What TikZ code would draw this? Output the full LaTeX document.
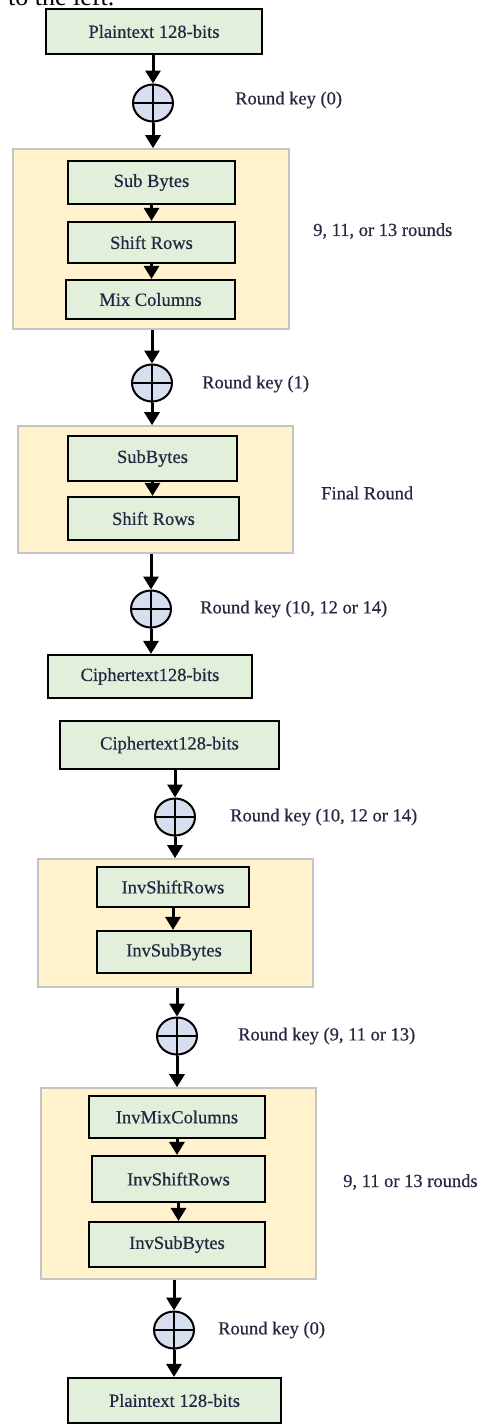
\documentclass[tikz,border=0pt]{standalone}
\usepackage{fontspec}
\setmainfont{Liberation Serif}
\newfontfamily\diafont[RawFeature={embolden=0.5}]{Liberation Serif}
\usetikzlibrary{arrows.meta,shapes.geometric}

\definecolor{stepfill}{RGB}{226,239,218}
\definecolor{roundfill}{RGB}{255,242,204}
\definecolor{roundedge}{RGB}{196,196,196}
\definecolor{xorfill}{RGB}{214,222,240}
\definecolor{labelink}{RGB}{38,38,66}

\tikzset{
  stepbox/.style={draw=black, line width=2.2pt, fill=stepfill, inner sep=0pt,
    text=labelink, font=\diafont\fontsize{18.5}{22}\selectfont},
  roundbox/.style={draw=roundedge, line width=1.6pt, fill=roundfill, inner sep=0pt},
  xorop/.style={ellipse, draw=black, line width=2pt, fill=xorfill, inner sep=0pt,
    minimum width=40pt, minimum height=37pt},
  keylabel/.style={anchor=west, inner sep=0pt, text=labelink,
    font=\diafont\fontsize{18.5}{22}\selectfont},
  flow/.style={line width=3pt, -{Triangle[width=15pt,length=13pt]}},
  crossline/.style={line width=1.8pt}
}

\newcommand{\xorcross}[1]{\draw[crossline] (#1.north) -- (#1.south) (#1.west) -- (#1.east);}

\begin{document}
\begin{tikzpicture}[x=1pt,y=-1pt]
\useasboundingbox (0,0) rectangle (480,1424);

% running text of the page above the figure
\node[anchor=base west, inner sep=0pt, font=\fontsize{26}{30}\selectfont] (runin) at (8,5.5) {to the left.};

% ---------------- encryption ----------------
\node[stepbox, minimum width=216pt, minimum height=45pt] (pt1) at (154,31.5) {Plaintext 128-bits};
\node[xorop] (x1) at (153,103) {};
\xorcross{x1}
\node[keylabel] (k0) at (235,100) {Round key (0)};

\node[roundbox, minimum width=276pt, minimum height=180pt] (r1) at (151,239) {};
\node[stepbox, minimum width=167pt, minimum height=43pt] (sb1) at (151.5,182.5) {Sub Bytes};
\node[stepbox, minimum width=167pt, minimum height=41pt] (sr1) at (151.5,242.5) {Shift Rows};
\node[stepbox, minimum width=169pt, minimum height=39pt] (mc1) at (150.5,299.5) {Mix Columns};
\node[keylabel] (n1) at (313,231) {9, 11, or 13 rounds};

\node[xorop] (x2) at (152,383) {};
\xorcross{x2}
\node[keylabel] (k1) at (202,384) {Round key (1)};

\node[roundbox, minimum width=275pt, minimum height=127pt] (r2) at (155.5,489.5) {};
\node[stepbox, minimum width=169pt, minimum height=45pt] (sb2) at (152.5,458.5) {SubBytes};
\node[stepbox, minimum width=171pt, minimum height=43pt] (sr2) at (153.5,518.5) {Shift Rows};
\node[keylabel] (fr) at (321,493) {Final Round};

\node[xorop] (x3) at (151,609) {};
\xorcross{x3}
\node[keylabel] (k10) at (200,609) {Round key (10, 12 or 14)};

\node[stepbox, minimum width=204pt, minimum height=43pt] (ct1) at (150,676.5) {Ciphertext128-bits};

\draw[flow] (pt1.south -| x1.center) -- (x1.north);
\draw[flow] (x1.south) -- (r1.north -| x1.center);
\draw[flow] (sb1.south) -- (sr1.north -| sb1.south);
\draw[flow] (sr1.south) -- (mc1.north -| sr1.south);
\draw[flow] (r1.south -| x2.center) -- (x2.north);
\draw[flow] (x2.south) -- (r2.north -| x2.center);
\draw[flow] (sb2.south) -- (sr2.north -| sb2.south);
\draw[flow] (r2.south -| x3.center) -- (x3.north);
\draw[flow] (x3.south) -- (ct1.north -| x3.center);

% ---------------- decryption ----------------
\node[stepbox, minimum width=219pt, minimum height=48pt] (ct2) at (169.5,745) {Ciphertext128-bits};
\node[xorop] (x4) at (175,817) {};
\xorcross{x4}
\node[keylabel] (k10b) at (230,817) {Round key (10, 12 or 14)};

\node[roundbox, minimum width=275pt, minimum height=128pt] (r3) at (175.5,923) {};
\node[stepbox, minimum width=152pt, minimum height=40pt] (isr1) at (173,887) {InvShiftRows};
\node[stepbox, minimum width=154pt, minimum height=42pt] (isb1) at (174,952) {InvSubBytes};

\node[xorop] (x5) at (177,1036) {};
\xorcross{x5}
\node[keylabel] (k9) at (238,1036) {Round key (9, 11 or 13)};

\node[roundbox, minimum width=275pt, minimum height=191pt] (r4) at (178.5,1183.5) {};
\node[stepbox, minimum width=176pt, minimum height=42pt] (imc) at (177,1117) {InvMixColumns};
\node[stepbox, minimum width=173pt, minimum height=46pt] (isr2) at (178.5,1179) {InvShiftRows};
\node[stepbox, minimum width=176pt, minimum height=45pt] (isb2) at (177,1244.5) {InvSubBytes};
\node[keylabel] (n2) at (343,1182) {9, 11 or 13 rounds};

\node[xorop] (x6) at (174,1330) {};
\xorcross{x6}
\node[keylabel] (k0b) at (218,1330) {Round key (0)};

\node[stepbox, minimum width=213pt, minimum height=45pt] (pt2) at (174.5,1400.5) {Plaintext 128-bits};

\draw[flow] (ct2.south -| x4.center) -- (x4.north);
\draw[flow] (x4.south) -- (r3.north -| x4.center);
\draw[flow] (isr1.south) -- (isb1.north -| isr1.south);
\draw[flow] (r3.south -| x5.center) -- (x5.north);
\draw[flow] (x5.south) -- (r4.north -| x5.center);
\draw[flow] (imc.south) -- (isr2.north -| imc.south);
\draw[flow] (isr2.south) -- (isb2.north -| isr2.south);
\draw[flow] (r4.south -| x6.center) -- (x6.north);
\draw[flow] (x6.south) -- (pt2.north -| x6.center);
\end{tikzpicture}
\end{document}
